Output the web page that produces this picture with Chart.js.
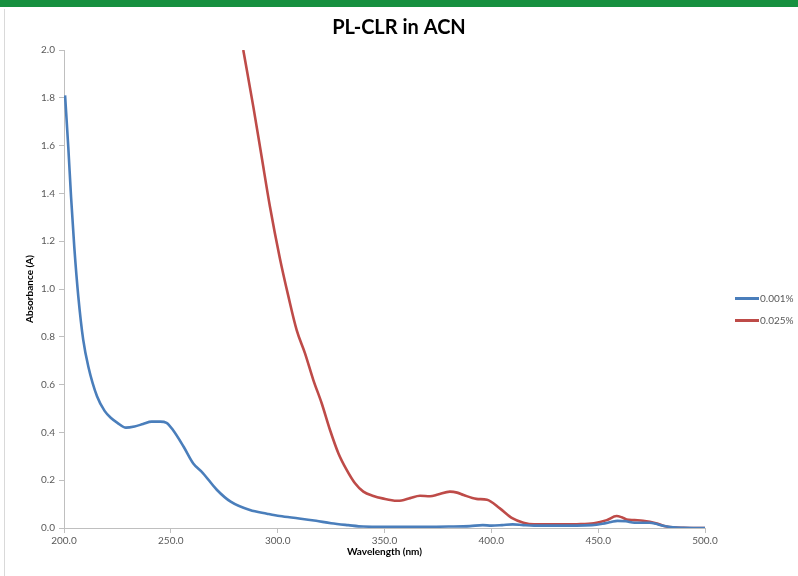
<!DOCTYPE html>
<html>
<head>
<meta charset="utf-8">
<style>
  body { margin: 0; background: #fff; }
  #wrap { position: relative; width: 798px; height: 576px; overflow: hidden; }
  #topbar { position: absolute; left: 0; top: 0; width: 798px; height: 7px; background: #17903f; }
  #edge { position: absolute; left: 4px; top: 9px; width: 1px; height: 567px; background: #d9d9d9; }
  canvas { position: absolute; left: 0; top: 0; }
  #legend { position: absolute; left: 735px; top: 291px; font: 10px Lato, sans-serif; color: #595959; }
  #legend div { height: 22px; line-height: 14px; white-space: nowrap; }
  #legend span { display: inline-block; width: 24px; height: 3px; vertical-align: middle; margin-right: 1px; position: relative; top: -1px; }
</style>
</head>
<body>
<div id="wrap">
  <canvas id="myChart" width="798" height="576"></canvas>
  <div id="topbar"></div>
  <div id="edge"></div>
  <div id="legend"></div>
</div>
<script src="https://cdn.jsdelivr.net/npm/chart.js@4.4.1/dist/chart.umd.min.js"></script>
<script>
// 0.001%
const blueX = [200.5,202,203.3,204.8,206.7,209,211.4,215.5,219,222,225,229,233,237,241,245,248,251,256,260.5,265,271.5,278,287,295,301,310,318,325,333,340,350,360,370,380,390,396,400,405,410,415,420,430,440,447,452,456,459,463,467,471,474,478,481,485,490,500];
const blueY = [1.81,1.595,1.386,1.177,0.968,0.787,0.675,0.55,0.49,0.46,0.44,0.42,0.425,0.435,0.445,0.445,0.44,0.41,0.34,0.27,0.23,0.16,0.11,0.075,0.06,0.05,0.04,0.03,0.02,0.012,0.006,0.005,0.005,0.005,0.006,0.008,0.012,0.01,0.012,0.015,0.012,0.01,0.01,0.01,0.012,0.018,0.025,0.03,0.028,0.022,0.022,0.022,0.015,0.008,0.003,0.001,0.0];
// 0.025%
const redX = [283.9,288.6,292.5,296.4,301,305,308.9,312.8,316.7,320.6,324.5,328.4,332.3,336.2,340.1,344.8,349,355.7,358,362,366.6,371.3,375,380.6,384,387,393,398,404,410,415,420,430,440,448,454,458.6,461,463.3,467,471,477,482,490,500];
const redY = [2.0,1.763,1.553,1.344,1.13,0.97,0.828,0.731,0.619,0.522,0.41,0.313,0.243,0.187,0.152,0.134,0.124,0.114,0.115,0.125,0.135,0.133,0.14,0.152,0.148,0.138,0.122,0.118,0.082,0.04,0.022,0.015,0.015,0.016,0.02,0.033,0.05,0.045,0.036,0.033,0.03,0.02,0.006,0.001,0.0];

const seriesNames = ["0.001%", "0.025%"];
const xTicks = [200, 250, 300, 350, 400, 450, 500];

function pts(xs, ys) {
    return xs.map((x, i) => ({ x: x, y: ys[i] }));
}

const axisGray = "#bfbfbf";
const textGray = "#595959";

const chart = new Chart("myChart", {
    type: "line",
    data: {
        datasets: [{
            label: seriesNames[0],
            data: pts(blueX, blueY),
            borderColor: "#4a7ebb",
            borderWidth: 2.6,
            pointRadius: 0,
            cubicInterpolationMode: "monotone"
        }, {
            label: seriesNames[1],
            data: pts(redX, redY),
            borderColor: "#be4b48",
            borderWidth: 2.6,
            pointRadius: 0,
            cubicInterpolationMode: "monotone"
        }]
    },
    options: {
        responsive: false,
        animation: false,
        layout: { padding: { left: 0, top: 8, right: 0, bottom: 18 } },
        plugins: {
            title: {
                display: true,
                text: "PL-CLR in ACN",
                color: "#000",
                font: { family: "Lato", size: 20, weight: "bold" },
                padding: { top: 8, bottom: 10 }
            },
            legend: { display: false },
            tooltip: { enabled: false }
        },
        scales: {
            x: {
                type: "linear",
                min: 200,
                max: 500,
                afterBuildTicks: (s) => { s.ticks = xTicks.map(v => ({ value: v })); },
                // leave room on the right for the legend
                afterFit: (s) => { s.height = 30; s.paddingRight = 93; },
                grid: { drawOnChartArea: false, color: axisGray, tickLength: 5 },
                border: { color: axisGray },
                ticks: {
                    color: textGray,
                    font: { family: "Lato", size: 10 },
                    padding: 2,
                    maxRotation: 0,
                    callback: (v) => Number(v).toFixed(1)
                },
                title: {
                    display: true,
                    text: "Wavelength (nm)",
                    color: "#000",
                    font: { family: "Lato", size: 10, weight: "bold" },
                    padding: { top: 2, bottom: 0 }
                }
            },
            y: {
                min: 0,
                max: 2,
                afterFit: (s) => { s.width = 64; },
                grid: { drawOnChartArea: false, color: axisGray, tickLength: 5 },
                border: { color: axisGray },
                ticks: {
                    stepSize: 0.2,
                    color: textGray,
                    font: { family: "Lato", size: 10 },
                    padding: 4,
                    callback: (v) => Number(v).toFixed(1)
                },
                title: {
                    display: true,
                    text: "Absorbance (A)",
                    color: "#000",
                    font: { family: "Lato", size: 10, weight: "bold" },
                    padding: { top: 24, bottom: 0 }
                }
            }
        }
    }
});

// legend built from the datasets
const legendBox = document.getElementById("legend");
chart.data.datasets.forEach(ds => {
    const row = document.createElement("div");
    const sw = document.createElement("span");
    sw.style.background = ds.borderColor;
    row.appendChild(sw);
    row.appendChild(document.createTextNode(ds.label));
    legendBox.appendChild(row);
});
</script>
</body>
</html>
